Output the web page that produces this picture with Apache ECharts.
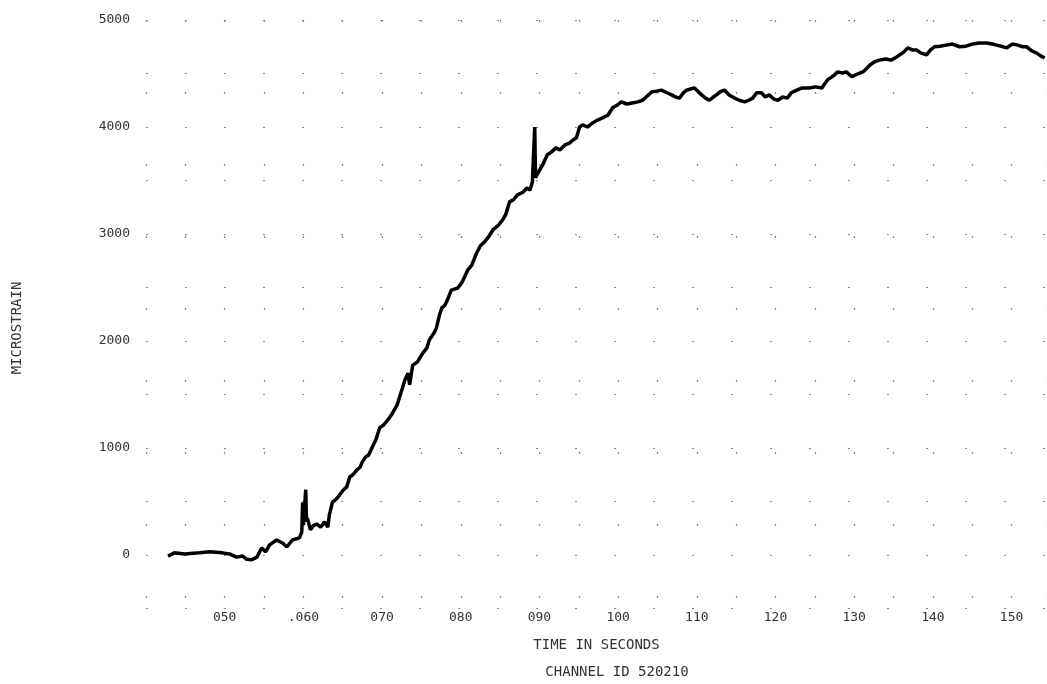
<!DOCTYPE html>
<html>
<head>
<meta charset="utf-8">
<script src="https://cdn.jsdelivr.net/npm/echarts@6/dist/echarts.min.js"></script>
<style>
html,body{margin:0;padding:0;background:#fff;}
#chart{width:1047px;height:684px;}
</style>
</head>
<body>
<div id="chart"></div>
<script>
// time in milliseconds (axis shows thousandths of a second)
var timeMs = [42.8,43.6,44.9,46.8,48.1,49.7,50.6,51.5,52.3,52.8,53.4,54.1,54.7,55.2,55.7,56.6,57.4,57.9,58.6,59.5,59.8,59.9,60.0,60.3,60.4,60.5,60.9,61.2,61.7,62.2,62.7,63.1,63.3,63.7,64.2,64.6,65.1,65.5,65.9,66.3,66.8,67.2,67.5,67.9,68.3,68.7,69.2,69.7,70.2,70.7,71.2,71.9,72.5,72.9,73.3,73.5,73.9,74.5,75.2,75.7,76.0,76.6,76.9,77.3,77.6,78.0,78.3,78.8,79.6,80.1,80.5,80.9,81.4,82.0,82.5,83.0,83.5,84.1,84.7,85.3,85.7,86.2,86.7,87.2,87.9,88.4,88.8,89.1,89.4,89.5,89.8,90.4,91.0,91.5,92.1,92.6,93.2,93.8,94.3,94.7,95.1,95.5,96.1,96.8,97.4,98.0,98.7,99.3,99.9,100.4,101.1,101.8,102.5,103.1,103.7,104.3,104.9,105.5,106.2,106.8,107.3,107.8,108.3,108.7,109.2,109.7,110.2,110.6,111.1,111.6,112.1,112.5,113.0,113.5,114.1,114.8,115.4,116.1,116.6,117.1,117.6,118.2,118.7,119.2,119.8,120.3,120.9,121.5,122.0,122.7,123.4,124.3,125.1,125.9,126.2,126.6,127.3,127.9,128.5,129.0,129.7,130.4,131.1,131.6,132.0,132.6,133.2,134.0,134.7,135.4,135.8,136.3,136.8,137.4,137.9,138.5,139.2,139.7,140.2,140.9,141.7,142.5,143.4,144.2,145.0,145.9,146.8,147.6,148.1,148.7,149.4,150.1,150.8,151.4,151.9,152.6,153.2,153.7,154.2];
var strain = [-10,20,10,20,30,20,10,-20,-10,-40,-45,-20,65,30,95,140,110,75,140,160,215,490,280,610,310,345,235,270,290,260,310,260,375,495,525,560,610,635,730,750,795,820,870,915,935,1000,1075,1190,1215,1260,1310,1400,1540,1635,1700,1590,1775,1805,1890,1935,2010,2075,2120,2245,2310,2335,2385,2475,2495,2540,2600,2665,2710,2820,2890,2925,2970,3040,3075,3130,3180,3300,3320,3365,3390,3430,3410,3485,4000,3525,3570,3645,3740,3765,3805,3785,3830,3850,3880,3900,4000,4020,4000,4040,4065,4085,4110,4180,4205,4235,4215,4225,4235,4250,4290,4330,4335,4345,4320,4300,4280,4270,4320,4345,4355,4365,4330,4300,4270,4250,4280,4300,4330,4345,4300,4270,4250,4235,4250,4270,4320,4320,4280,4300,4260,4250,4280,4270,4320,4345,4365,4365,4375,4365,4400,4440,4475,4515,4505,4515,4470,4495,4515,4550,4580,4610,4625,4635,4625,4655,4675,4700,4740,4720,4720,4690,4675,4720,4750,4755,4765,4775,4750,4755,4775,4785,4785,4775,4765,4755,4740,4775,4765,4750,4750,4710,4690,4665,4645];

var xTickValues = [50,60,70,80,90,100,110,120,130,140,150];
var xTickLabels = ['050','.060','070','080','090','100','110','120','130','140','150'];
var yTickValues = [0,1000,2000,3000,4000,5000];
var yTickLabels = ['0','1000','2000','3000','4000','5000'];

var xTitle = 'TIME IN SECONDS';
var yTitle = 'MICROSTRAIN';
var subTitle = 'CHANNEL ID 520210';

var seriesData = timeMs.map(function(t,i){ return [t, strain[i]]; });

var FONT = 'DejaVu Sans Mono';
var chart = echarts.init(document.getElementById('chart'), null, {renderer:'canvas'});
chart.setOption({
  animation:false,
  backgroundColor:'#ffffff',
  grid:{left:146, right:0, top:20, bottom:75.5, containLabel:false},
  xAxis:{
    type:'value', min:40, max:154.5, interval:5,
    axisLine:{show:false}, axisTick:{show:false},
    axisLabel:{
      margin:3, color:'#333', fontFamily:FONT, fontSize:13,
      showMaxLabel:false,
      formatter:function(v){ var i = xTickValues.indexOf(Math.round(v*10)/10); return i>=0 ? xTickLabels[i] : ''; }
    },
    splitLine:{show:true, lineStyle:{color:'#888', width:1.2, type:[2,70]}},
    name:xTitle, nameLocation:'middle', nameGap:30,
    nameTextStyle:{color:'#333', fontFamily:FONT, fontSize:14}
  },
  yAxis:{
    type:'value', min:-500, max:5000, interval:500,
    axisLine:{show:false}, axisTick:{show:false},
    axisLabel:{
      margin:16, color:'#333', fontFamily:FONT, fontSize:13,
      formatter:function(v){ var i = yTickValues.indexOf(v); return i>=0 ? yTickLabels[i] : ''; }
    },
    splitLine:{show:true, lineStyle:{color:'#888', width:1.2, type:[2,37]}}
  },
  graphic:[
    {type:'text', x:617, y:672, silent:true,
     style:{text:subTitle, fill:'#333', font:'14px "DejaVu Sans Mono"', textAlign:'center', textVerticalAlign:'middle'}},
    {type:'text', x:17, y:328, rotation:Math.PI/2, silent:true,
     style:{text:yTitle, fill:'#333', font:'14px "DejaVu Sans Mono"', textAlign:'center', textVerticalAlign:'middle'}}
  ],
  series:[{
    type:'line', data:seriesData, showSymbol:false, smooth:false,
    lineStyle:{color:'#000', width:3.5}, itemStyle:{color:'#000'},
    z:5
  }]
});
</script>
</body>
</html>
